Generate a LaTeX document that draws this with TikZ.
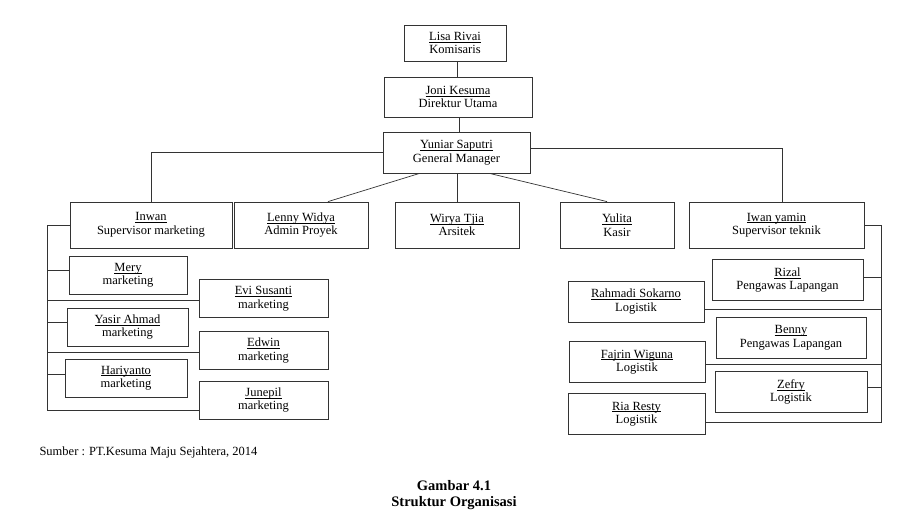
\documentclass[tikz,border=0pt]{standalone}
\usepackage{fontspec}
\setmainfont{Liberation Serif}
\usepackage{tikz}
\usetikzlibrary{arrows,shapes}
\tikzstyle{box}=[draw=black!80,line width=0.8pt,rectangle,align=center,inner sep=0pt,font=\fontsize{12.5}{13.5}\selectfont]
\tikzstyle{edge} = [draw=black!80,line width=0.7pt,-]
\newcommand{\nameline}[1]{\setbox0\hbox{#1}\rlap{\rule[-1.8pt]{\wd0}{0.5pt}}\box0}
\newcommand{\staff}[2]{\nameline{#1}\\#2}

\begin{document}
\begin{tikzpicture}[x=1pt,y=-1pt]
    \useasboundingbox (0,0) rectangle (904,524);
    % Draw the top of the chart
    \node[box,minimum width=102pt,minimum height=36pt] (lisa) at (455,43) {\staff{Lisa Rivai}{Komisaris}};
    \node[box,minimum width=148pt,minimum height=40pt] (joni) at (458,97) {\staff{Joni Kesuma}{Direktur Utama}};
    \node[box,minimum width=147pt,minimum height=41pt] (yuniar) at (456.5,152.5) {\staff{Yuniar Saputri}{General Manager}};

    % Then the second row
    \foreach \pos/\name/\w/\nm/\role in {{(151,225)/inwan/162/Inwan/Supervisor marketing}, {(301,225)/lenny/134/Lenny Widya/Admin Proyek}, {(457,225)/wirya/124/Wirya Tjia/Arsitek}, {(617,225)/yulita/114/Yulita/Kasir}, {(776.5,225)/iwan/175/Iwan yamin/Supervisor teknik}}
        \node[box,minimum width=\w pt,minimum height=46pt] (\name) at \pos {\staff{\nm}{\role}};

    % Marketing staff
    \foreach \pos/\name/\w/\nm in {{(128,275.5)/mery/118/Mery}, {(127.5,327)/yasir/121/Yasir Ahmad}, {(126,378)/hariyanto/122/Hariyanto}, {(263.5,298.5)/evi/129/Evi Susanti}, {(263.5,350.5)/edwin/129/Edwin}, {(263.5,400)/junepil/129/Junepil}}
        \node[box,minimum width=\w pt,minimum height=38pt] (\name) at \pos {\staff{\nm}{marketing}};

    % Technical staff
    \foreach \pos/\name/\w/\nm/\role in {{(787.5,280)/rizal/151/Rizal/Pengawas Lapangan}, {(791,338)/benny/150/Benny/Pengawas Lapangan}, {(791,392)/zefry/152/Zefry/Logistik}, {(636,301.5)/rahmadi/136/Rahmadi Sokarno/Logistik}, {(637,362)/fajrin/136/Fajrin Wiguna/Logistik}, {(636.5,414)/ria/137/Ria Resty/Logistik}}
        \node[box,minimum width=\w pt,minimum height=41pt] (\name) at \pos {\staff{\nm}{\role}};

    \coordinate (lbus) at (47,0);
    \coordinate (rbus) at (881,0);
    \coordinate (junepil end) at ([yshift=-10pt]junepil.west);
    \coordinate (ria end) at ([yshift=-8pt]ria.east);

    % Connect the boxes
    \path[edge] ([xshift=2pt]lisa.south) -- ([xshift=2pt]lisa.south |- joni.north);
    \path[edge] ([xshift=1pt]joni.south) -- ([xshift=1pt]joni.south |- yuniar.north);
    \path[edge] (yuniar.west) -| (inwan.north);
    \path[edge] ([yshift=4pt]yuniar.east) -| ([xshift=6pt]iwan.north);
    \path[edge] ([xshift=-37pt]yuniar.south) -- ([xshift=27pt]lenny.north);
    \path[edge] (yuniar.south -| wirya.north) -- (wirya.north);
    \path[edge] ([xshift=33pt]yuniar.south) -- ([xshift=-10pt]yulita.north);

    \path[edge] (inwan.west) -| (lbus |- junepil end) -- (junepil end);
    \foreach \name/\dy in {mery/5, yasir/5, hariyanto/4, evi/-2, edwin/-2}
        \path[edge] ([yshift=\dy pt]\name.west) -- ([yshift=\dy pt]\name.west -| lbus);

    \path[edge] (iwan.east) -| (rbus |- ria end) -- (ria end);
    \foreach \name/\dy in {rizal/3, rahmadi/-8, fajrin/-2, zefry/5}
        \path[edge] ([yshift=\dy pt]\name.east) -- ([yshift=\dy pt]\name.east -| rbus);

    % Captions
    \node[anchor=west,font=\fontsize{12.5}{14}\selectfont] (sumber) at (36,452) {Sumber : PT.Kesuma Maju Sejahtera, 2014};
    \node[align=center,font=\fontsize{14.5}{16.5}\selectfont\bfseries] (gambar) at (454,495) {Gambar 4.1\\Struktur Organisasi};
\end{tikzpicture}
\end{document}
